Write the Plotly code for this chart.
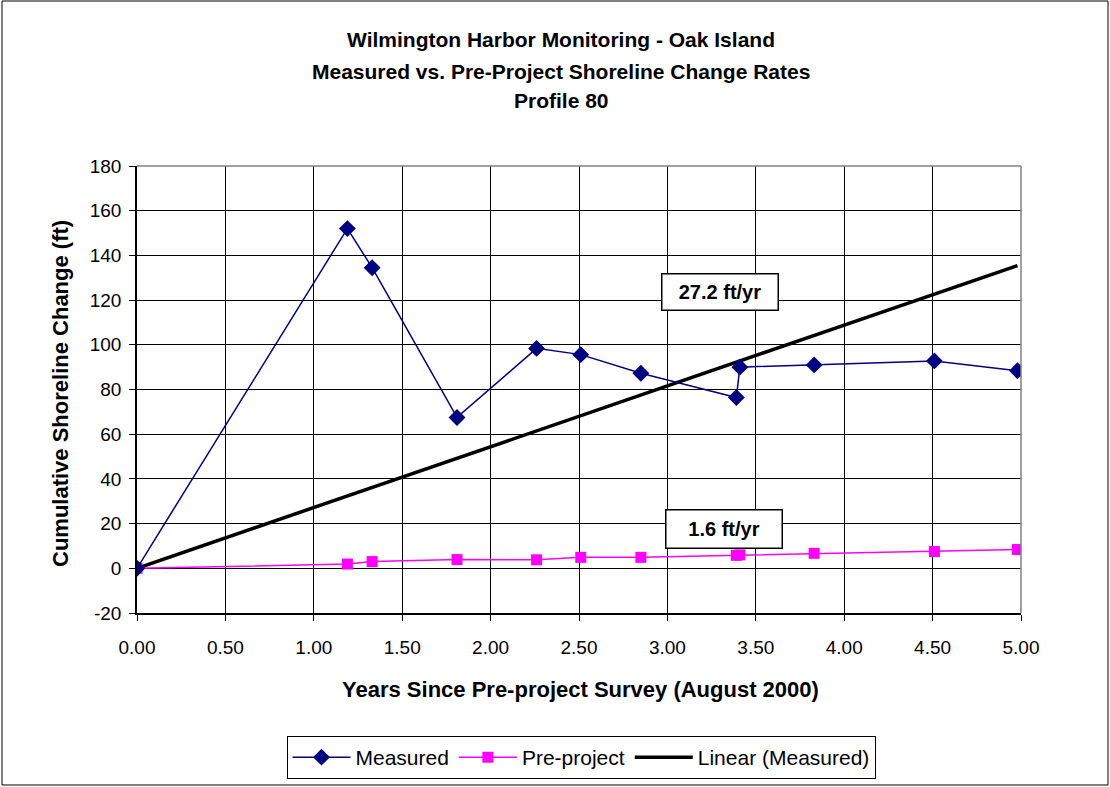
import plotly.graph_objects as go

# ---- data ----
years = [0.00, 1.19, 1.33, 1.81, 2.26, 2.51, 2.85, 3.39, 3.41, 3.83, 4.51, 4.98]
measured = [0.0, 152.0, 134.5, 67.5, 98.4, 95.6, 87.3, 76.4, 90.0, 91.0, 92.8, 88.4]
pre_project = [0.0, 1.9, 3.0, 3.9, 3.8, 4.9, 4.9, 5.8, 6.0, 6.7, 7.5, 8.4]
trend_rate = 27.2
pre_rate = 1.6
trend_x = [years[0], years[-1]]
trend_y = [trend_rate * x for x in trend_x]

y_ticks = [-20, 0, 20, 40, 60, 80, 100, 120, 140, 160, 180]
y_tick_labels = ["-20", "0", "20", "40", "60", "80", "100", "120", "140", "160", "180"]

title_lines = ["Wilmington Harbor Monitoring - Oak Island",
               "Measured vs. Pre-Project Shoreline Change Rates",
               "Profile 80"]

FONT = "Liberation Sans, Arial, sans-serif"

# plot area pixels (screen)
L, R, T, B = 137, 1021, 166, 613
W, H = 1110, 787
PW, PH = R - L, B - T

def px(x):
    return (x - L) / PW

def py(y):
    return (B - y) / PH

fig = go.Figure()

fig.add_trace(go.Scatter(
    x=trend_x, y=trend_y, mode="lines", name="Linear (Measured)",
    line=dict(color="black", width=3.5), legendrank=3))
fig.add_trace(go.Scatter(
    x=years, y=pre_project, mode="lines+markers", name="Pre-project",
    line=dict(color="#FF00FF", width=1.5),
    marker=dict(symbol="square", size=11, color="#FF00FF"), legendrank=2))
fig.add_trace(go.Scatter(
    x=years, y=measured, mode="lines+markers", name="Measured",
    line=dict(color="#000080", width=1.5),
    marker=dict(symbol="diamond", size=13, color="#000080"), legendrank=1))

annotations = []
title_y = [40, 72, 100]
for t, yy in zip(title_lines, title_y):
    annotations.append(dict(text="<b>%s</b>" % t, x=px(561), y=py(yy), xref="paper", yref="paper",
                            showarrow=False, xanchor="center", yanchor="middle",
                            font=dict(family=FONT, size=21, color="black")))
annotations.append(dict(text="<b>Years Since Pre-project Survey (August 2000)</b>",
                        x=px(580), y=py(689), xref="paper", yref="paper", showarrow=False,
                        xanchor="center", yanchor="middle",
                        font=dict(family=FONT, size=22, color="black")))
annotations.append(dict(text="<b>Cumulative Shoreline Change (ft)</b>",
                        x=px(60), y=py(394), xref="paper", yref="paper", showarrow=False,
                        textangle=-90, xanchor="center", yanchor="middle",
                        font=dict(family=FONT, size=22, color="black")))
annotations.append(dict(text="<b>%.1f ft/yr</b>" % trend_rate, x=3.30, y=123.5, xref="x", yref="y",
                        showarrow=False, bgcolor="white", bordercolor="black", borderwidth=1.5,
                        width=113, height=33, borderpad=1,
                        font=dict(family=FONT, size=20, color="black")))
annotations.append(dict(text="<b>%.1f ft/yr</b>" % pre_rate, x=3.32, y=17.5, xref="x", yref="y",
                        showarrow=False, bgcolor="white", bordercolor="black", borderwidth=1.5,
                        width=113, height=35, borderpad=1,
                        font=dict(family=FONT, size=20, color="black")))

shapes = [
    # outer chart border
    dict(type="rect", xref="paper", yref="paper", x0=px(2), x1=px(1108), y0=py(785), y1=py(1),
         line=dict(color="black", width=1), layer="below"),
    # plot area top / right border (gray)
    dict(type="line", xref="paper", yref="paper", x0=0, x1=1, y0=1, y1=1,
         line=dict(color="#808080", width=1.5), layer="above"),
    dict(type="line", xref="paper", yref="paper", x0=1, x1=1, y0=0, y1=1,
         line=dict(color="#808080", width=1.5), layer="above"),
]

fig.update_layout(
    width=W, height=H,
    margin=dict(l=L, r=W - R, t=T, b=H - B, pad=0, autoexpand=False),
    paper_bgcolor="white", plot_bgcolor="white",
    font=dict(family=FONT, size=19, color="black"),
    showlegend=True,
    legend=dict(orientation="h", x=px(581), y=py(736), xanchor="center", yanchor="top",
                bordercolor="black", borderwidth=1, bgcolor="white",
                font=dict(family=FONT, size=21, color="black"),
                traceorder="normal", itemwidth=58, itemsizing="trace"),
    annotations=annotations,
    shapes=shapes,
    xaxis=dict(range=[0, 5], dtick=0.5, tick0=0, tickformat=".2f", automargin=False,
               showgrid=True, gridcolor="black", gridwidth=1,
               showline=True, linecolor="black", linewidth=1.5,
               ticks="outside", ticklen=6, tickcolor="black",
               ticklabelstandoff=10, zeroline=False,
               tickfont=dict(family=FONT, size=19, color="black")),
    yaxis=dict(range=[-20, 180], tickmode="array", tickvals=y_ticks, ticktext=y_tick_labels,
               automargin=False,
               showgrid=True, gridcolor="black", gridwidth=1,
               showline=True, linecolor="black", linewidth=1.5,
               ticks="outside", ticklen=6, tickcolor="black",
               ticklabelstandoff=4, zeroline=False,
               tickfont=dict(family=FONT, size=19, color="black")),
)

fig.write_html("out.html", config={"displayModeBar": False},
               post_script="document.body.style.margin='0px';")
